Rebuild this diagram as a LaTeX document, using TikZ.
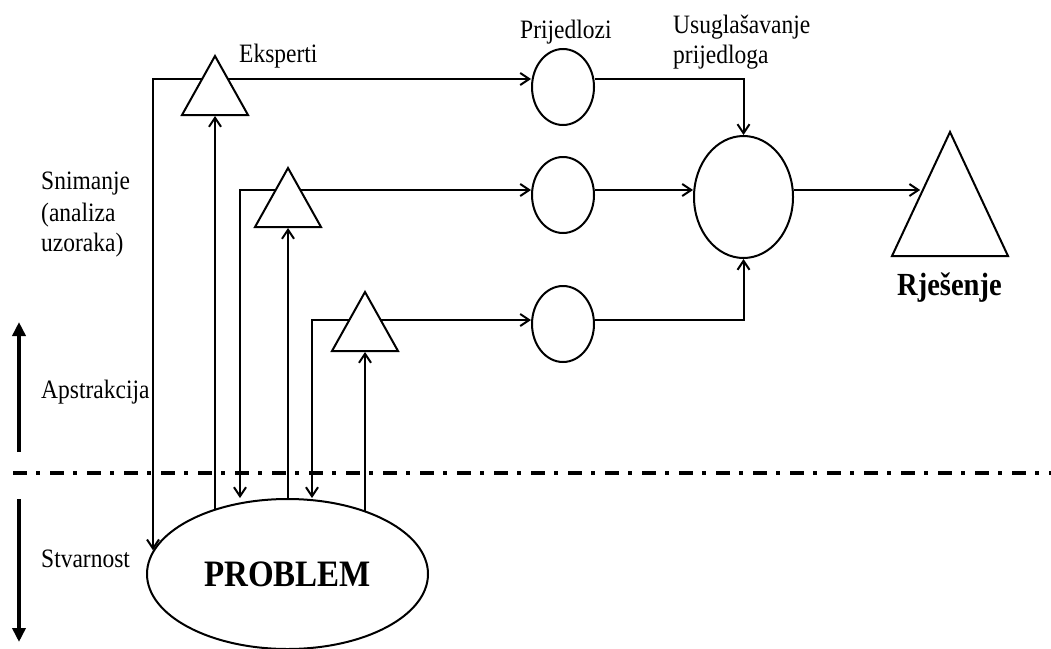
\documentclass[tikz,border=0pt]{standalone}
\usepackage{graphicx}
\usepackage{fontspec}
\setmainfont{Liberation Serif}
\usetikzlibrary{shapes.geometric,arrows.meta,backgrounds}
\newcommand{\vst}[1]{\scalebox{1}[1.13]{#1}}
\begin{document}
\begin{tikzpicture}[x=1pt,y=-1pt,
  >={Straight Barb[length=9pt,width=12pt]},
  ln/.style={line width=2pt},
  smalltri/.style={draw, line width=2pt, fill=white, isosceles triangle,
    isosceles triangle stretches, shape border rotate=90, inner sep=0pt,
    minimum width=66pt, minimum height=59pt},
  bigtri/.style={draw, line width=2pt, fill=white, isosceles triangle,
    isosceles triangle stretches, shape border rotate=90, inner sep=0pt,
    minimum width=116pt, minimum height=124pt},
  prop/.style={draw, line width=2pt, fill=white, ellipse, inner sep=0pt,
    minimum width=62pt, minimum height=76pt},
  lbl/.style={font=\fontsize{23.5}{28}\selectfont, inner sep=0pt, anchor=base west},
  thickarr/.style={line width=4pt, -{Triangle[length=14pt,width=13pt]}},
  divider/.style={line width=4pt, dash pattern=on 14pt off 9pt on 4pt off 10pt}
]
\useasboundingbox (0,0) rectangle (1051,648);

% expert triangles
\node[smalltri, anchor=lower side] (t1) at (215,116) {};
\node[smalltri, anchor=lower side] (t2) at (288,228) {};
\node[smalltri, anchor=lower side] (t3) at (365,352) {};

% proposals
\node[prop] (c1) at (563,87) {};
\node[prop] (c2) at (563,195) {};
\node[prop] (c3) at (563,324) {};

% harmonisation
\node[prop, minimum width=99pt, minimum height=122pt] (bigc) at (743.5,197) {};

% solution
\node[bigtri, anchor=lower side] (sol) at (950,257) {};

% problem
\node[draw, line width=2pt, fill=white, ellipse, inner sep=0pt,
  minimum width=281pt, minimum height=150pt,
  font=\fontsize{33}{40}\selectfont\bfseries] (prob) at (287.5,574) {\vst{PROBLEM}};

% labels
\node[lbl] (eks) at (239,62) {\vst{Eksperti}};
\node[lbl] (pri) at (520,38) {\vst{Prijedlozi}};
\node[lbl] (usu1) at (673,33) {\vst{Usuglašavanje}};
\node[lbl] (usu2) at (673,63) {\vst{prijedloga}};
\node[lbl] (sn1) at (41,189) {\vst{Snimanje}};
\node[lbl] (sn2) at (41,221) {\vst{(analiza}};
\node[lbl] (sn3) at (41,251) {\vst{uzoraka)}};
\node[lbl] (aps) at (41,398) {\vst{Apstrakcija}};
\node[lbl] (stv) at (41,567) {\vst{Stvarnost}};
\node[lbl, font=\fontsize{28.5}{34}\selectfont\bfseries] (rje) at (897,295) {\vst{Rješenje}};

% coordinates
\coordinate (r1) at (153,79);
\coordinate (r2) at (240,190);
\coordinate (r3) at (312,320);
\coordinate (a1) at (19,452);
\coordinate (a2) at (19,322);
\coordinate (a3) at (19,499);
\coordinate (a4) at (19,642);
\coordinate (d1) at (13,473);
\coordinate (d2) at (1051,473);

\begin{pgfonlayer}{background}
\fill[white] (0,0) rectangle (1051,648);
\draw[divider] (d1) -- (d2);
% snimanje / expert rows
\draw[ln,<->] (r1 |- prob.170.8) -- (r1) -- (c1.west |- r1);
\draw[ln,<->] (r2 |- prob.north) -- (r2) -- (c2.west |- r2);
\draw[ln,<->] (r3 |- prob.north) -- (r3) -- (c3.west |- r3);
% problem to experts
\draw[ln,->] (t1.lower side |- prob.138.5) -- (t1.lower side);
\draw[ln,->] (t2.lower side |- prob.north) -- (t2.lower side);
\draw[ln,->] (t3.lower side |- prob.38.4) -- (t3.lower side);
% proposals to harmonisation
\draw[ln,->] (c1.east |- r1) -| (bigc.north);
\draw[ln,->] (c2.east |- r2) -- (bigc.west |- r2);
\draw[ln,->] (c3.east |- r3) -| (bigc.south);
% to solution
\draw[ln,->] (bigc.east |- r2) -- (sol.left side |- r2);
% abstraction axis
\draw[thickarr] (a1) -- (a2);
\draw[thickarr] (a3) -- (a4);
\end{pgfonlayer}
\end{tikzpicture}
\end{document}
